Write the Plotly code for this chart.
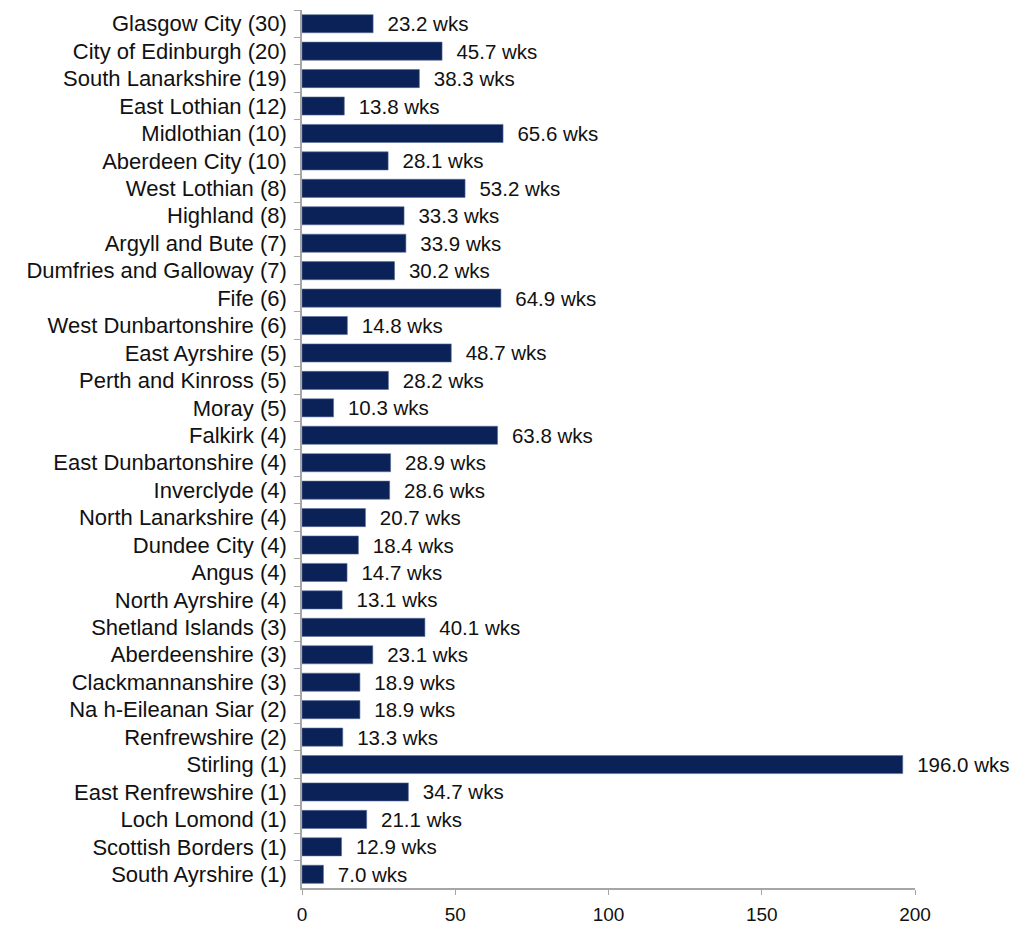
import plotly.graph_objects as go

categories = [
    "Glasgow City (30)", "City of Edinburgh (20)", "South Lanarkshire (19)", "East Lothian (12)",
    "Midlothian (10)", "Aberdeen City (10)", "West Lothian (8)", "Highland (8)",
    "Argyll and Bute (7)", "Dumfries and Galloway (7)", "Fife (6)", "West Dunbartonshire (6)",
    "East Ayrshire (5)", "Perth and Kinross (5)", "Moray (5)", "Falkirk (4)",
    "East Dunbartonshire (4)", "Inverclyde (4)", "North Lanarkshire (4)", "Dundee City (4)",
    "Angus (4)", "North Ayrshire (4)", "Shetland Islands (3)", "Aberdeenshire (3)",
    "Clackmannanshire (3)", "Na h-Eileanan Siar (2)", "Renfrewshire (2)", "Stirling (1)",
    "East Renfrewshire (1)", "Loch Lomond (1)", "Scottish Borders (1)", "South Ayrshire (1)",
]
weeks = [
    23.2, 45.7, 38.3, 13.8, 65.6, 28.1, 53.2, 33.3, 33.9, 30.2, 64.9, 14.8,
    48.7, 28.2, 10.3, 63.8, 28.9, 28.6, 20.7, 18.4, 14.7, 13.1, 40.1, 23.1,
    18.9, 18.9, 13.3, 196.0, 34.7, 21.1, 12.9, 7.0,
]
x_ticks = [0, 50, 100, 150, 200]

FONT = "Liberation Sans, Arial, sans-serif"

fig = go.Figure(go.Bar(
    x=weeks, y=categories, orientation="h",
    marker=dict(color="#0b2259", line=dict(color="#5a6f99", width=0.6)),
    texttemplate="\u00a0\u00a0%{x:.1f} wks", textposition="outside",
    constraintext="none",
    textfont=dict(family=FONT, size=20.5, color="#111111"),
    cliponaxis=False,
))

fig.update_layout(
    width=1013, height=925,
    margin=dict(l=302, r=98, t=10, b=37),
    paper_bgcolor="white", plot_bgcolor="white",
    bargap=0.34,
    showlegend=False,
    font=dict(family=FONT, color="#111111"),
)
fig.update_xaxes(
    range=[0, 200], tickvals=x_ticks, showgrid=False, zeroline=False,
    showline=True, linecolor="#a6a6a6", linewidth=1.5,
    ticks="outside", ticklen=5, tickcolor="#a6a6a6",
    tickfont=dict(size=19), ticklabelstandoff=3, automargin=False,
)
fig.update_yaxes(
    categoryorder="array", categoryarray=categories, autorange="reversed",
    showgrid=False, showline=True, linecolor="#a6a6a6", linewidth=1.5,
    ticks="outside", ticklen=6, tickcolor="#a6a6a6", tickson="boundaries",
    tickfont=dict(size=22), ticklabelstandoff=9, automargin=False,
)

fig.write_html("out.html")
